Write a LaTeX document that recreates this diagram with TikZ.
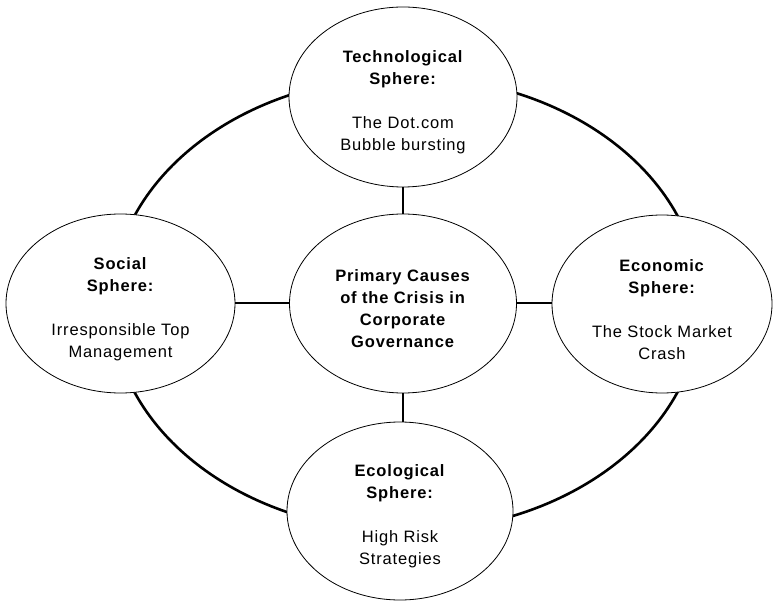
\documentclass[tikz,border=0pt]{standalone}
\usepackage{fontspec}
\setmainfont{Liberation Sans}[LetterSpace=5]
\usetikzlibrary{shapes.geometric}
% a taller first line lowers the text block a little inside its ellipse
\newcommand\firstline{\rule{0pt}{23pt}}
\begin{document}
\begin{tikzpicture}[x=1pt,y=-1pt,
  sphere/.style={ellipse,draw=black,line width=0.8pt,fill=white,inner sep=0pt,
    align=center,font=\fontsize{16.5}{22}\selectfont},
  ring/.style={line width=2.6pt},
  link/.style={line width=2pt}]
  \useasboundingbox (0,0) rectangle (773,601);
  % outer ring joining the four spheres
  \draw[ring] (406,304) ellipse [x radius=294.5pt, y radius=227.4pt];
  % spheres
  \node[sphere,minimum width=228pt,minimum height=180pt] (tech) at (403,97)
    {\firstline\textbf{Technological}\\\textbf{Sphere:}\\[22pt]The Dot.com\\Bubble bursting};
  \node[sphere,minimum width=229pt,minimum height=179pt] (social) at (120.5,303.5)
    {\firstline\textbf{Social}\\\textbf{Sphere:}\\[22pt]Irresponsible Top\\Management};
  \node[sphere,minimum width=220pt,minimum height=178pt] (econ) at (662,304)
    {\firstline\textbf{Economic}\\\textbf{Sphere:}\\[22pt]The Stock Market\\Crash};
  \node[sphere,minimum width=226pt,minimum height=178pt] (eco) at (400,511)
    {\firstline\textbf{Ecological}\\\textbf{Sphere:}\\[22pt]High Risk\\Strategies};
  \node[sphere,minimum width=227pt,minimum height=179pt] (core) at (403,303.5)
    {\firstline\textbf{Primary Causes}\\\textbf{of the Crisis in}\\\textbf{Corporate}\\\textbf{Governance}};
  % spokes from the core to each sphere
  \draw[link] (core.north) -- (tech.south -| core.north);
  \draw[link] (core.south) -- (eco.north -| core.south);
  \draw[link] (core.west) -- (social.east |- core.west);
  \draw[link] (core.east) -- (econ.west |- core.east);
\end{tikzpicture}
\end{document}
